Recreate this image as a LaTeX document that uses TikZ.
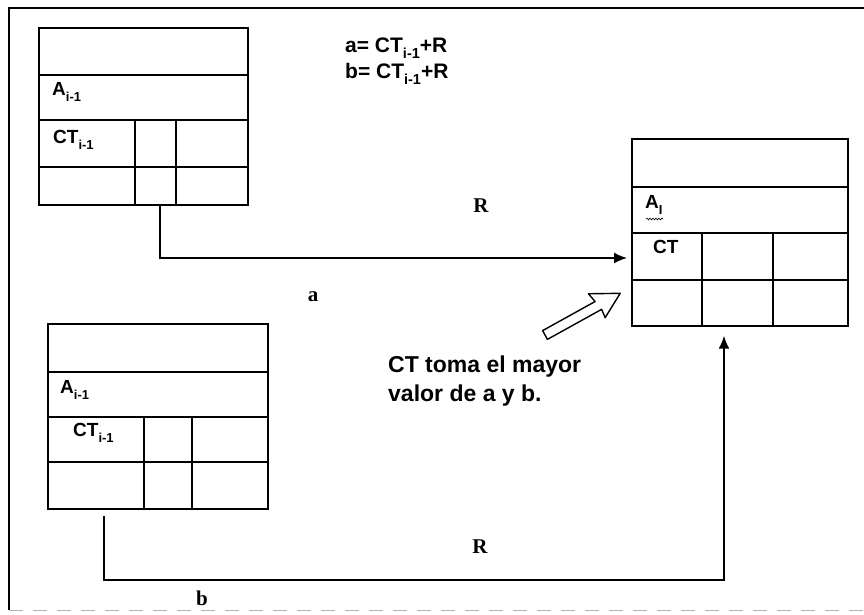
\documentclass[tikz,border=0pt]{standalone}
\usepackage{fontspec}
\setmainfont{Liberation Sans}
\newfontfamily\serifR{Liberation Serif}
\usetikzlibrary{arrows.meta,decorations.pathmorphing}
\newcommand{\sbs}[1]{\raisebox{-0.28em}{\fontsize{13}{14}\selectfont #1}}
\newcommand{\sbf}[1]{\raisebox{-0.28em}{\fontsize{14.5}{15}\selectfont #1}}
\begin{document}
\begin{tikzpicture}[x=1pt,y=-1pt,
  grid/.style={line width=1.7pt},
  frame/.style={line width=1.2pt},
  conn/.style={line width=1.7pt,-{Latex[length=13pt,width=11pt]}},
  boxnode/.style={draw,line width=1.7pt,anchor=north west,inner sep=0pt},
  lab/.style={font=\fontsize{19}{21}\selectfont\bfseries,anchor=west,inner sep=0pt},
  formula/.style={font=\fontsize{21}{23}\selectfont\bfseries,anchor=west,inner sep=0pt},
  serlab/.style={font=\serifR\fontsize{21}{23}\selectfont\bfseries,inner sep=0pt},
  note/.style={font=\fontsize{23}{29}\selectfont\bfseries,align=left,anchor=north west,inner sep=0pt}]
\useasboundingbox (0,0) rectangle (864,614);
% outer frame
\draw[frame] (864,8) -- (9,8) -- (9,610);
\draw[gray!60,line width=1pt,dash pattern=on 14pt off 10pt] (9,610) -- (864,610);

% box 1 (top left)
\node[boxnode,minimum width=209pt,minimum height=177pt] (box1) at (38,27) {};
\draw[grid] (38,75) -- (247,75) (38,120) -- (247,120) (38,167) -- (247,167)
  (135,120) -- (135,204) (176,120) -- (176,204);
\node[lab] (A1) at (52,92) {A\sbs{i-1}};
\node[lab] (CT1) at (53,140) {CT\sbs{i-1}};

% box 2 (bottom left)
\node[boxnode,minimum width=220pt,minimum height=185pt] (box2) at (47,323) {};
\draw[grid] (47,372) -- (267,372) (47,417) -- (267,417) (47,462) -- (267,462)
  (144,417) -- (144,508) (192,417) -- (192,508);
\node[lab] (A2) at (60,390) {A\sbs{i-1}};
\node[lab] (CT2) at (73,433) {CT\sbs{i-1}};

% box 3 (right)
\node[boxnode,minimum width=216pt,minimum height=187pt] (box3) at (631,138) {};
\draw[grid] (631,187) -- (847,187) (631,233) -- (847,233) (631,280) -- (847,280)
  (702,233) -- (702,325) (773,233) -- (773,325);
\node[lab] (A3) at (645,205) {A\sbs{I}};
\draw[line width=0.6pt,decorate,decoration={snake,amplitude=0.9pt,segment length=3pt}] (646,219) -- (663,219);
\node[lab] (CT3) at (653,247) {CT};

% formulas
\node[formula] (fa) at (345,48) {a= CT\sbf{i-1}+R};
\node[formula] (fb) at (345,74) {b= CT\sbf{i-1}+R};

% connector a
\coordinate (a0) at (160,204);
\coordinate (a1) at (160,258);
\draw[conn,shorten >=4pt] (a0) -- (a1) -- (a1 -| box3.west);
\node[serlab] (R1) at (481,206) {R};
\node[serlab] (la) at (313,297) {a};

% connector b
\coordinate (b0) at (104,516);
\coordinate (b1) at (104,580);
\coordinate (b2) at (724,580);
\draw[conn,shorten >=9pt] (b0) -- (b1) -- (b2) -- (b2 |- box3.south);
\node[serlab] (R2) at (480,547) {R};
\node[serlab] (lb) at (202,598) {b};

% note and hollow arrow
\node[note] (note) at (388,356) {CT toma el mayor\\valor de a y b.};
\begin{scope}[shift={(545,335)},rotate=29]
  \draw[line width=1.4pt,line join=round] (0,-5) -- (60,-5) -- (58,-15) -- (86,0) -- (61,14) -- (62,5) -- (0,5) -- cycle;
\end{scope}
\end{tikzpicture}
\end{document}
